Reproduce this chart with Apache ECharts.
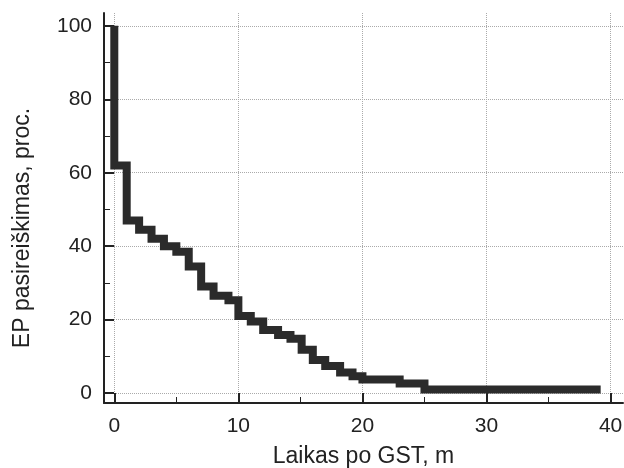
<!DOCTYPE html>
<html lang="lt">
<head>
    <meta charset="UTF-8">
    <title>EP pasireiškimas</title>
    <script src="https://cdn.jsdelivr.net/npm/echarts@6/dist/echarts.min.js"></script>
    <style>
        html, body { margin: 0; padding: 0; background: #fff; }
        #container { width: 624px; height: 468px; }
    </style>
</head>
<body>
<div id="container"></div>
<script>
    // laikas po GST (m) ir EP dalis (%) - laiptine kreive
    var timeData = [0, 0, 1, 2, 3, 4, 5, 6, 7, 8, 9.2, 10, 11, 12, 13.2, 14.2, 15.1, 16, 17, 18.2, 19.2, 20, 23, 25, 39.2];
    var valueData = [100, 62, 47, 44.5, 42, 40, 38.5, 34.5, 29, 26.5, 25.3, 21, 19.5, 17.2, 15.8, 14.8, 11.8, 9, 7.4, 5.6, 4.6, 3.7, 2.6, 1, 1];

    var xMajorTicks = [0, 10, 20, 30, 40];
    var xMinorTicks = [5, 15, 25, 35];
    var yMajorTicks = [0, 20, 40, 60, 80, 100];
    var yMinorTicks = [10, 30, 50, 70, 90];

    var points = [];
    for (var i = 0; i < timeData.length; i++) {
        points.push([timeData[i], valueData[i]]);
    }

    var font = 'Liberation Sans, Arial, sans-serif';
    var xMin = -0.83, xMax = 41;
    var yMin = -2.7, yMax = 103.5;

    var dom = document.getElementById('container');
    var myChart = echarts.init(dom);
    var option = {
        animation: false,
        grid: {
            left: 104,
            right: 1,
            top: 13,
            bottom: 65,
            outerBoundsMode: 'none'
        },
        xAxis: [{
            type: 'value',
            min: xMin,
            max: xMax,
            position: 'bottom',
            name: 'Laikas po GST, m',
            nameLocation: 'middle',
            nameGap: 42,
            nameTextStyle: { fontFamily: font, fontSize: 23, color: '#222' },
            axisLine: { onZero: false, lineStyle: { color: '#222', width: 2 } },
            axisTick: { inside: true, length: 10, customValues: xMajorTicks, lineStyle: { color: '#222', width: 2 } },
            axisLabel: { customValues: xMajorTicks, margin: 13, fontFamily: font, fontSize: 21, color: '#222' },
            splitLine: { show: true, lineStyle: { color: '#aaa', width: 1, type: [1, 1] } }
        }, {
            type: 'value',
            min: xMin,
            max: xMax,
            position: 'bottom',
            axisLine: { show: false, onZero: false },
            axisTick: { inside: true, length: 6, customValues: xMinorTicks, lineStyle: { color: '#222', width: 1 } },
            axisLabel: { show: false },
            splitLine: { show: false }
        }],
        yAxis: [{
            type: 'value',
            min: yMin,
            max: yMax,
            position: 'left',
            name: 'EP pasireiškimas, proc.',
            nameLocation: 'middle',
            nameRotate: 90,
            nameGap: 70,
            nameTextStyle: { fontFamily: font, fontSize: 23, color: '#222', padding: [0, 40, 0, 0] },
            axisLine: { onZero: false, lineStyle: { color: '#222', width: 2 } },
            axisTick: { inside: true, length: 10, customValues: yMajorTicks, lineStyle: { color: '#222', width: 2 } },
            axisLabel: { customValues: yMajorTicks, margin: 12, fontFamily: font, fontSize: 21, color: '#222' },
            splitLine: { show: true, lineStyle: { color: '#aaa', width: 1, type: [1, 1] } }
        }, {
            type: 'value',
            min: yMin,
            max: yMax,
            position: 'left',
            axisLine: { show: false, onZero: false },
            axisTick: { inside: true, length: 6, customValues: yMinorTicks, lineStyle: { color: '#222', width: 1 } },
            axisLabel: { show: false },
            splitLine: { show: false }
        }],
        series: [{
            type: 'line',
            step: 'end',
            data: points,
            symbol: 'none',
            lineStyle: { color: '#2b2b2b', width: 8, cap: 'butt', join: 'miter' }
        }]
    };
    myChart.setOption(option, true);
</script>
</body>
</html>
